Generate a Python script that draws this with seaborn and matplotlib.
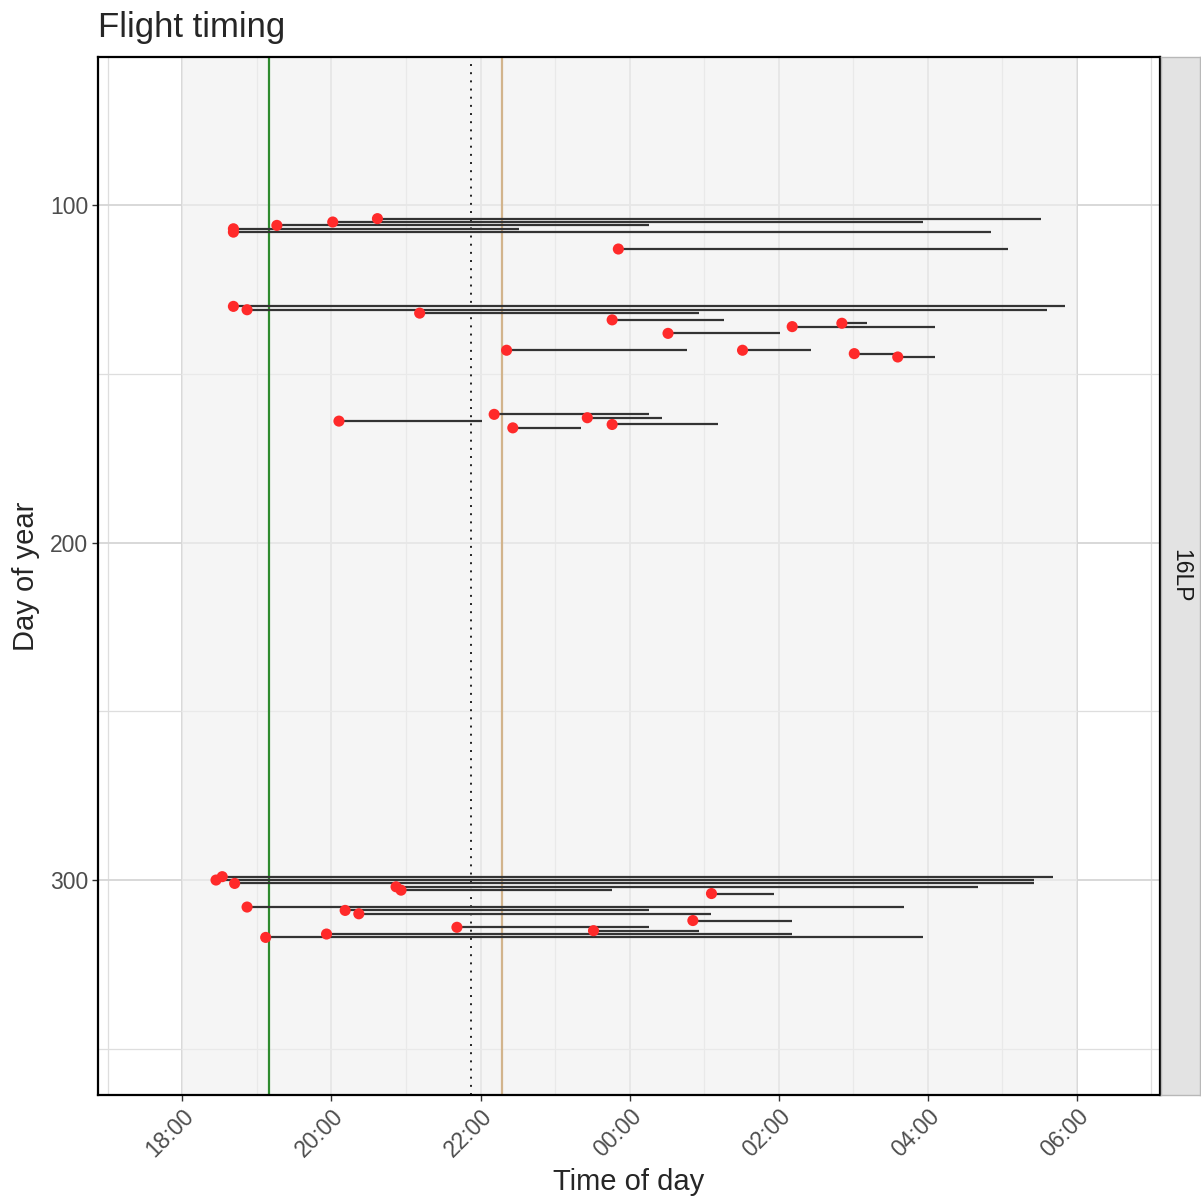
import numpy as np
import pandas as pd
import matplotlib
matplotlib.use("Agg")
import matplotlib.pyplot as plt
from matplotlib.ticker import FixedLocator
import seaborn as sns

# Flight records: day of year, departure time and return time
day = [104, 105, 106, 107, 108, 113,
       130, 131, 132, 134, 135, 136, 138, 143, 143, 144, 145,
       162, 163, 164, 165, 166,
       299, 300, 301, 302, 303, 304, 308, 309, 310, 312, 314, 315, 316, 317]
start = ["20:37", "20:01", "19:16", "18:41", "18:41", "23:51",
         "18:41", "18:52", "21:11", "23:46", "02:51", "02:11", "00:31",
         "22:21", "01:31", "03:01", "03:36",
         "22:11", "23:26", "20:06", "23:46", "22:26",
         "18:32", "18:27", "18:42", "20:52", "20:56", "01:06", "18:52",
         "20:11", "20:22", "00:51", "21:41", "23:31", "19:56", "19:07"]
end = ["05:31", "03:56", "00:16", "22:31", "04:51", "05:05",
       "05:51", "05:36", "00:56", "01:16", "03:11", "04:06", "02:01",
       "00:46", "02:26", "03:35", "04:06",
       "00:16", "00:26", "22:01", "01:11", "23:21",
       "05:41", "05:26", "05:26", "04:41", "23:46", "01:56", "03:41",
       "00:16", "01:06", "02:11", "00:16", "00:56", "02:11", "03:56"]

# Reference times drawn as vertical lines
sunset = "19:10"
dusk_dotted = "21:52"
dusk_tan = "22:17"
night_start, night_end = "18:00", "06:00"

tick_labels = ["18:00", "20:00", "22:00", "00:00", "02:00", "04:00", "06:00"]
site = "16LP"


def to_hours(s):
    h, m = s.split(":")
    v = int(h) + int(m) / 60
    return v + 24 if v < 12 else v


df = pd.DataFrame({"day": day,
                   "start_h": [to_hours(s) for s in start],
                   "end_h": [to_hours(s) for s in end]})

sns.set_theme(style="white")
plt.rcParams["font.family"] = ["Liberation Sans", "DejaVu Sans"]

W, H = 1201, 1198
fig = plt.figure(figsize=(W / 100, H / 100), dpi=100)
px0, px1, py0, py1 = 98, 1160, 57, 1095
ax = fig.add_axes([px0 / W, 1 - py1 / H, (px1 - px0) / W, (py1 - py0) / H])
ax.set_facecolor("white")

# night shading
ax.axvspan(to_hours(night_start), to_hours(night_end), color="#F0F0F0",
           alpha=0.65, lw=0, zorder=1)

ax.axvline(to_hours(sunset), color="#2E8B2E", lw=1.6, zorder=2)
ax.axvline(to_hours(dusk_dotted), color="#222222", lw=1.4, ls=(0, (1, 3.2)), zorder=2)
ax.axvline(to_hours(dusk_tan), color="#D2B48C", lw=1.6, zorder=2)

ax.hlines(df["day"], df["start_h"], df["end_h"], color="#333333", lw=1.6, zorder=3)
sns.scatterplot(data=df, x="start_h", y="day", color="#FF2A2A", s=64,
                edgecolor="none", ax=ax, zorder=4, legend=False)

ax.set_xlim(16.866, 31.12)
ax.set_ylim(363.7, 56.1)

major_x = [to_hours(t) for t in tick_labels]
ax.xaxis.set_major_locator(FixedLocator(major_x))
ax.xaxis.set_minor_locator(FixedLocator([17, 19, 21, 23, 25, 27, 29, 31]))
ax.set_xticklabels(tick_labels)
ax.yaxis.set_major_locator(FixedLocator([100, 200, 300]))
ax.yaxis.set_minor_locator(FixedLocator([50, 150, 250, 350]))

ax.set_axisbelow(True)
ax.grid(which="major", color="#D6D6D6", lw=1.3, zorder=0.5)
ax.grid(which="minor", color="#DEDEDE", lw=0.9, zorder=0.5)

ax.tick_params(which="major", length=4, width=1, color="#333333",
               labelsize=16.5, labelcolor="#4D4D4D", bottom=True, left=True, pad=3)
ax.tick_params(which="minor", length=0)
for lab in ax.get_xticklabels():
    lab.set_rotation(45)
    lab.set_ha("right")
    lab.set_va("top")
    lab.set_rotation_mode("anchor")

for sp in ax.spines.values():
    sp.set_color("black")
    sp.set_linewidth(1.6)

ax.set_xlabel("")
ax.set_ylabel("")

fig.text(px0 / W, 1 - 37 / H, "Flight timing", fontsize=25, ha="left", va="baseline")
fig.text((px0 + px1) / 2 / W, 1 - 1190 / H, "Time of day", fontsize=21,
         ha="center", va="baseline")
fig.text(26 / W, 1 - (py0 + py1) / 2 / H, "Day of year", fontsize=21,
         rotation=90, ha="center", va="center")

# facet strip
sax = fig.add_axes([1161 / W, 1 - py1 / H, 39 / W, (py1 - py0) / H])
sax.set_facecolor("#E3E3E3")
sax.set_xticks([])
sax.set_yticks([])
for sp in sax.spines.values():
    sp.set_color("#B8B8B8")
    sp.set_linewidth(1)
sax.text(0.5, 0.5, site, rotation=270, ha="center", va="center",
         fontsize=16.5, color="#1A1A1A", transform=sax.transAxes)

fig.savefig("out.png", dpi=100)
